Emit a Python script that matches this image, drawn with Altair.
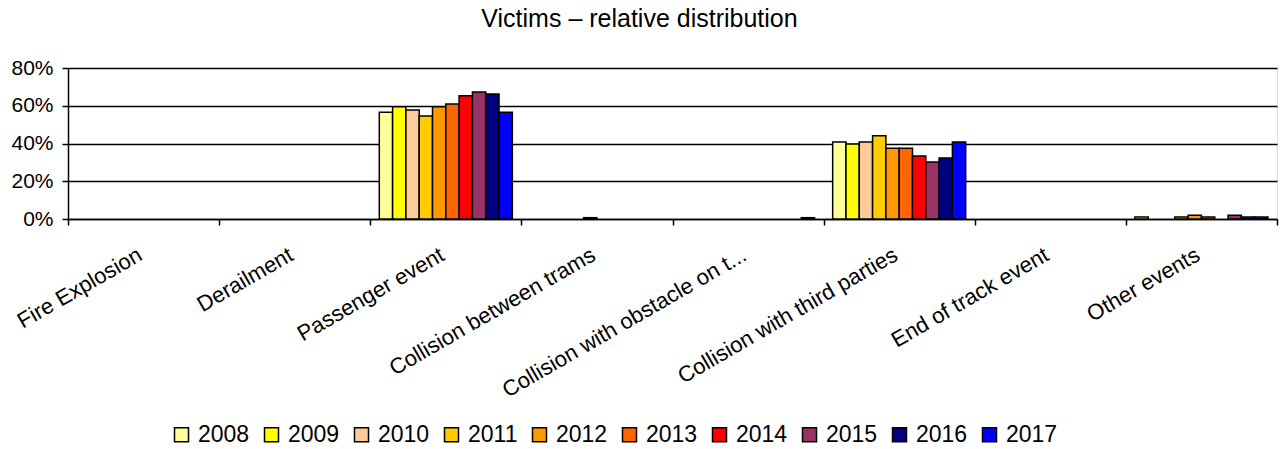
import altair as alt
import pandas as pd

categories = ["Fire Explosion", "Derailment", "Passenger event", "Collision between trams",
              "Collision with obstacle on t...", "Collision with third parties",
              "End of track event", "Other events"]
years = ["2008", "2009", "2010", "2011", "2012", "2013", "2014", "2015", "2016", "2017"]
colors = ["#FFFF99", "#FFFF00", "#FFCC99", "#FFCC00", "#FF9900",
          "#FF6600", "#FF0000", "#993366", "#000080", "#0000FF"]

# percent values per category, one per year
fire_explosion = [0, 0, 0, 0, 0, 0, 0, 0, 0, 0]
derailment = [0, 0, 0, 0, 0, 0, 0, 0, 0, 0]
passenger_event = [56.5, 59.5, 57.7, 54.6, 59.5, 60.9, 65.3, 67.3, 66.2, 56.5]
collision_trams = [0, 0, 0, 0, 0.7, 0, 0, 0, 0, 0]
collision_obstacle = [0, 0, 0, 0, 0, 0, 0, 0, 0, 0.7]
collision_third = [40.8, 39.7, 40.8, 44.1, 37.5, 37.5, 33.4, 30.2, 32.3, 40.8]
end_of_track = [0, 0, 0, 0, 0, 0, 0, 0, 0, 0]
other_events = [1, 0, 0, 1, 2, 1, 0, 2, 1, 1]

series = [fire_explosion, derailment, passenger_event, collision_trams,
          collision_obstacle, collision_third, end_of_track, other_events]

rows = []
for cat, vals in zip(categories, series):
    for y, v in zip(years, vals):
        rows.append({"category": cat, "year": y, "value": v})
df = pd.DataFrame(rows)

FONT = "Liberation Sans"

chart = alt.Chart(df).transform_filter(
    alt.datum.value > 0
).mark_bar(stroke="black", strokeWidth=1.5).encode(
    x=alt.X("category:N", sort=categories,
            scale=alt.Scale(domain=categories, paddingInner=0, paddingOuter=0),
            axis=alt.Axis(title=None, labelAngle=-30, labelAlign="right", labelBaseline="top",
                          labelPadding=19, labelOffset=-9, labelFontSize=22, labelFont=FONT,
                          labelColor="black",
                          tickBand="extent", tickSize=6, tickColor="black", tickWidth=1.5,
                          domainColor="black", domainWidth=1.5, labelLimit=400)),
    xOffset=alt.XOffset("year:N", sort=years,
                        scale=alt.Scale(domain=years, paddingInner=0, paddingOuter=0.68)),
    y=alt.Y("value:Q", scale=alt.Scale(domain=[0, 80], nice=False),
            axis=alt.Axis(title=None, values=[0, 20, 40, 60, 80], labelExpr="datum.value + '%'",
                          labelFontSize=21, labelFont=FONT, labelColor="black", labelPadding=9,
                          tickSize=6, tickColor="black", tickWidth=1.5,
                          domainColor="black", domainWidth=1.5,
                          grid=True, gridColor="black", gridWidth=1.5)),
    fill=alt.Fill("year:N", sort=years, scale=alt.Scale(domain=years, range=colors),
                  legend=alt.Legend(title=None, orient="none", direction="horizontal", columns=10,
                                    legendX=102, legendY=355,
                                    symbolType="square", symbolSize=196,
                                    symbolStrokeColor="black", symbolStrokeWidth=1.5,
                                    symbolOpacity=1,
                                    labelFontSize=23, labelFont=FONT, labelColor="black",
                                    labelOffset=5, columnPadding=10)),
).properties(
    width=1209,
    height=151,
    title=alt.TitleParams("Victims – relative distribution", font=FONT, fontSize=25,
                          fontWeight="normal", color="black", anchor="middle", dx=-33, offset=25),
    padding={"left": 68, "top": 68, "right": 11, "bottom": 230},
    autosize=alt.AutoSizeParams(type="none"),
).configure_view(stroke=None).configure(background="white")

chart.save("out.html", embed_options={"renderer": "svg", "actions": False})
